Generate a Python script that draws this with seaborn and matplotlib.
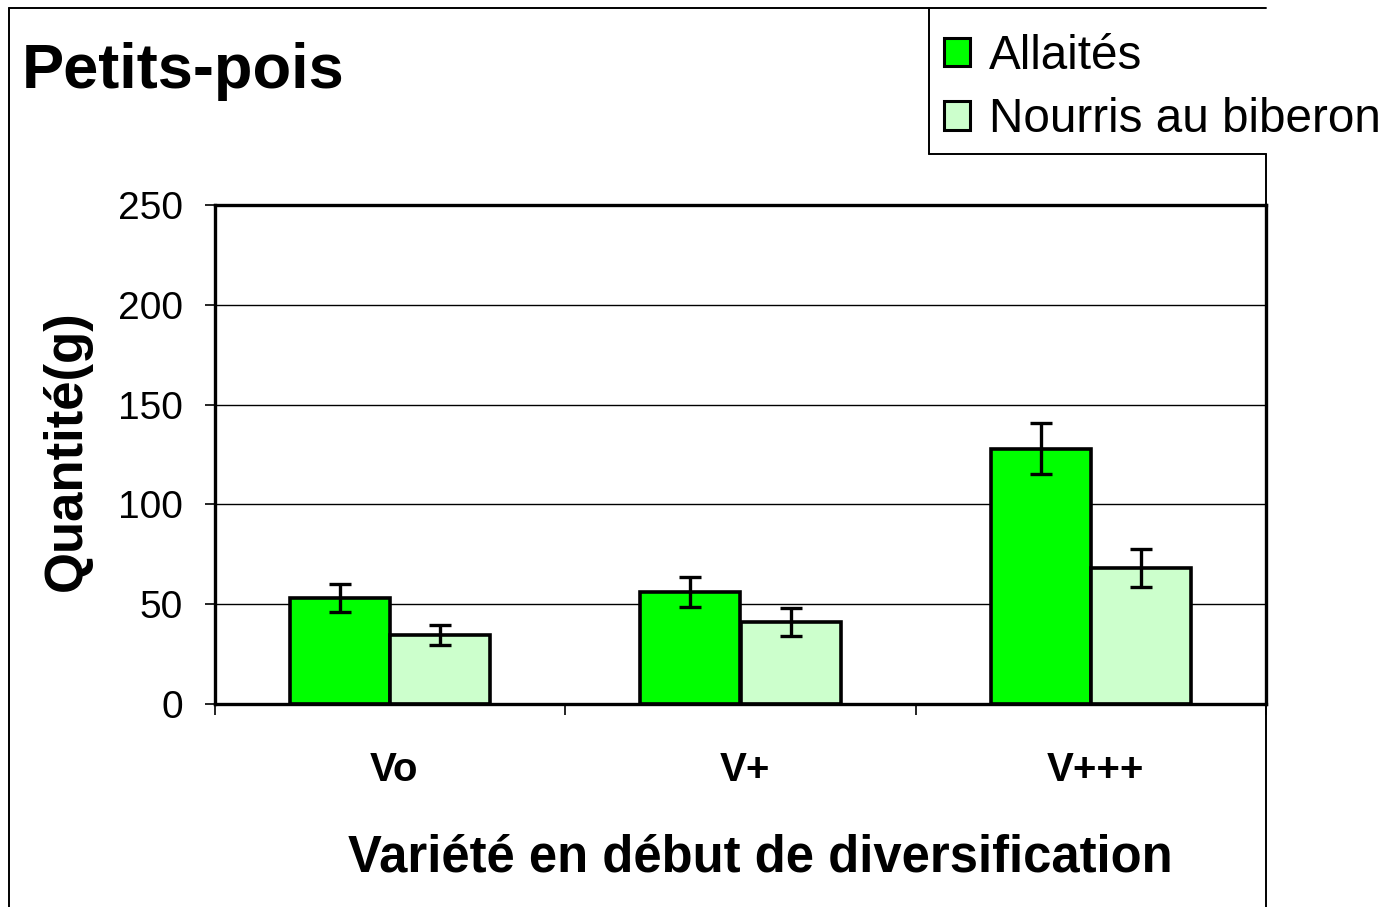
import pandas as pd
import matplotlib
matplotlib.use("Agg")
import matplotlib.pyplot as plt
from matplotlib.lines import Line2D
import seaborn as sns

# values
categories = ["Vo", "V+", "V+++"]
groups = ["Allaités", "Nourris au biberon"]
allaites = [53, 56, 128]
biberon = [34.5, 41, 68]
err_allaites = [7, 7.5, 13]
err_biberon = [5, 7, 9.5]
colors = ["#00FF00", "#CCFFCC"]

df = pd.DataFrame({
    "cat": categories * 2,
    "group": [groups[0]] * 3 + [groups[1]] * 3,
    "val": allaites + biberon,
})

sns.set_style("white")
plt.rcParams["font.family"] = ["Liberation Sans", "DejaVu Sans"]
plt.rcParams["text.color"] = "black"
plt.rcParams["xtick.color"] = "black"
plt.rcParams["ytick.color"] = "black"
plt.rcParams["axes.labelcolor"] = "black"

W, H = 1389, 907
fig = plt.figure(figsize=(W / 100, H / 100), dpi=100)
ax = fig.add_axes([215 / W, 1 - 704 / H, (1266 - 215) / W, (704 - 205) / H])

sns.barplot(data=df, x="cat", y="val", hue="group", palette=colors,
            order=categories, hue_order=groups, width=0.571, gap=0,
            saturation=1, edgecolor="black", linewidth=2.6, errorbar=None,
            ax=ax)

# error bars on bar centres
for cont, errs in zip(ax.containers, [err_allaites, err_biberon]):
    xs = [b.get_x() + b.get_width() / 2 for b in cont]
    ys = [b.get_height() for b in cont]
    ax.errorbar(xs, ys, yerr=errs, fmt="none", ecolor="black",
                elinewidth=2.4, capsize=8, capthick=2.4, zorder=5)

ax.set_xlim(-0.5, 2.5)
ax.set_ylim(0, 250)
ax.set_yticks([0, 50, 100, 150, 200, 250])
ax.grid(axis="y", color="black", linewidth=1)
ax.set_axisbelow(True)
for s in ax.spines.values():
    s.set_visible(True)
    s.set_color("black")
    s.set_linewidth(2.4)

ax.tick_params(axis="y", direction="out", length=7, width=1.2,
               labelsize=28, pad=16, left=True)
ax.set_xticks([0.012, 1.012, 2.012])
ax.set_xticklabels(categories, fontsize=29, fontweight="bold")
ax.tick_params(axis="x", which="major", length=0, pad=34)
ax.set_xticks([-0.5, 0.5, 1.5, 2.5], minor=True)
ax.tick_params(axis="x", which="minor", direction="out", length=8, width=1.2,
               bottom=True)

ax.set_xlabel("Variété en début de diversification", fontsize=36.5,
              fontweight="bold")
ax.xaxis.set_label_coords((760 - 215) / 1051, (704 - 834) / 499)
ax.set_ylabel("Quantité(g)", fontsize=38, fontweight="bold")
ax.yaxis.set_label_coords((92 - 215) / 1051, (704 - 451) / 499)

fig.text(22 / W, 1 - 88 / H, "Petits-pois", fontsize=45.5, fontweight="bold",
         va="baseline", ha="left")

# outer frame and legend box
lw = 1.4
def fline(x0, y0, x1, y1):
    fig.add_artist(Line2D([x0 / W, x1 / W], [1 - y0 / H, 1 - y1 / H],
                          color="black", linewidth=lw))
fline(9, 8, 1266, 8)
fline(9, 8, 9, 907)
fline(1266, 154, 1266, 907)
fline(929, 8, 929, 154)
fline(929, 154, 1266, 154)

handles, labels = ax.get_legend_handles_labels()
ax.get_legend().remove()
leg = fig.legend(handles, labels, loc="upper left",
                 bbox_to_anchor=(944 / W, 1 - 34 / H), frameon=False,
                 fontsize=34.3, handlelength=0.55, handleheight=0.55,
                 handletextpad=0.4, labelspacing=0.38, borderpad=0,
                 borderaxespad=0)
for h in leg.legend_handles:
    h.set_edgecolor("black")
    h.set_linewidth(2.2)

fig.savefig("out.png", dpi=100, facecolor="white")
